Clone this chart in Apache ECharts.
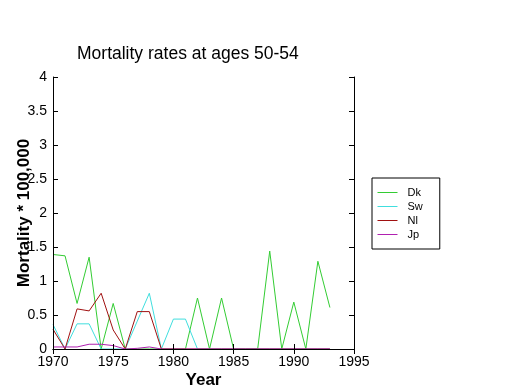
<!DOCTYPE html>
<html>
<head>
<meta charset="utf-8">
<script src="https://cdn.jsdelivr.net/npm/echarts@6/dist/echarts.min.js"></script>
<style>html,body{margin:0;padding:0;background:#fff;}#c{width:520px;height:390px;}</style>
</head>
<body>
<div id="c"></div>
<script>
const years = [1970,1971,1972,1973,1974,1975,1976,1977,1978,1979,1980,1981,1982,1983,1984,1985,1986,1987,1988,1989,1990,1991,1992,1993];
const dk = [1.39,1.37,0.67,1.35,0,0.67,0,0,0,0,0,0,0.75,0,0.75,0,0,0,1.44,0,0.69,0,1.29,0.61];
const sw = [0.36,0,0.37,0.37,0,0,0,0.41,0.82,0,0.44,0.44,0,0,0,0,0,0,0,0,0,0,0,0];
const nl = [0.29,0,0.59,0.56,0.82,0.28,0,0.55,0.55,0,0,0,0,0,0,0,0,0,0,0,0,0,0,0];
const jp = [0.03,0.03,0.03,0.07,0.07,0.05,0,0.01,0.03,0,0,0,0,0,0,0,0,0,0,0,0,0,0,0];
const seriesNames = ['Dk','Sw','Nl','Jp'];
const seriesColors = ['#33cc33','#40dede','#a01010','#b020b0'];
const xTicks = [1970,1975,1980,1985,1990,1995];
const yTicks = [0,0.5,1,1.5,2,2.5,3,3.5,4];

const values = [dk, sw, nl, jp];
const font = 'Liberation Sans, Arial, sans-serif';
const chart = echarts.init(document.getElementById('c'), null, {renderer:'canvas'});
const tick = {show:true, inside:true, length:5, lineStyle:{color:'#000', width:1}};
const line = {show:true, lineStyle:{color:'#000', width:1}};
chart.setOption({
  animation:false,
  backgroundColor:'#fff',
  title:{text:'Mortality rates at ages 50-54', left:77, top:45, padding:0,
    textStyle:{fontFamily:font, fontSize:17.5, fontWeight:'normal', color:'#000'}},
  legend:{orient:'vertical', left:372, top:178, padding:[9,17,9,5], itemWidth:20, itemHeight:10, itemGap:3,
    borderColor:'#000', borderWidth:1, backgroundColor:'#fff', borderRadius:0,
    itemStyle:{opacity:0}, lineStyle:{width:1},
    textStyle:{fontFamily:font, fontSize:11, color:'#000', padding:[0,0,0,5]},
    data:seriesNames},
  grid:{left:53, right:166, top:77, bottom:41, containLabel:false, outerBoundsMode:'none'},
  xAxis:[{type:'value', position:'bottom', min:xTicks[0], max:xTicks[xTicks.length-1], interval:5, z:10,
      axisLine:line, axisTick:tick, splitLine:{show:false},
      axisLabel:{color:'#000', fontFamily:font, fontSize:14, margin:6, formatter:v=>String(v)},
      name:'Year', nameLocation:'middle', nameGap:23, nameMoveOverlap:false,
      nameTextStyle:{fontFamily:font, fontSize:17, fontWeight:'bold', color:'#000'}},
    {type:'value', position:'top', min:xTicks[0], max:xTicks[xTicks.length-1], interval:5, z:10,
      axisLine:line, axisTick:tick, splitLine:{show:false}, axisLabel:{show:false}}],
  yAxis:[{type:'value', position:'left', min:yTicks[0], max:yTicks[yTicks.length-1], interval:0.5, z:10,
      axisLine:line, axisTick:tick, splitLine:{show:false},
      axisLabel:{color:'#000', fontFamily:font, fontSize:14, margin:6},
      name:'Mortality * 100,000', nameLocation:'middle', nameGap:20, nameMoveOverlap:false,
      nameTextStyle:{fontFamily:font, fontSize:17, fontWeight:'bold', color:'#000'}},
    {type:'value', position:'right', min:yTicks[0], max:yTicks[yTicks.length-1], interval:0.5, z:10,
      axisLine:line, axisTick:tick, splitLine:{show:false}, axisLabel:{show:false}}],
  series: seriesNames.map((n,i)=>({
    name:n, type:'line', symbol:'none', showSymbol:false,
    data: years.map((y,j)=>[y, values[i][j]]),
    color: seriesColors[i],
    lineStyle:{width:1, color:seriesColors[i]}
  }))
});
</script>
</body>
</html>
